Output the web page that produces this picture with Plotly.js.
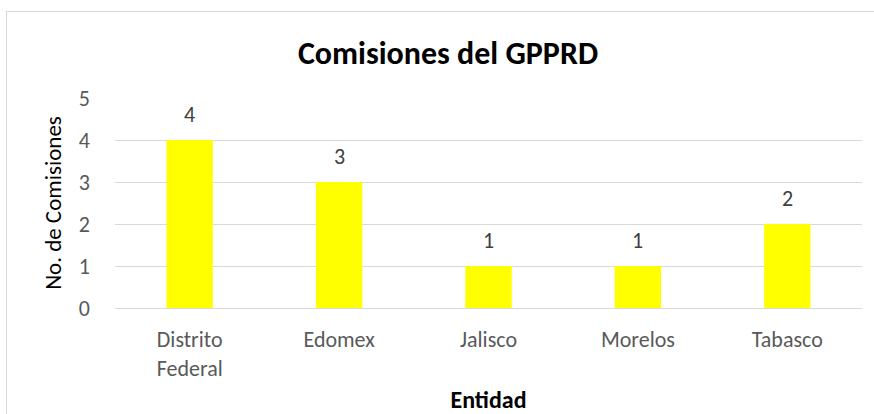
<!DOCTYPE html>
<html>
<head>
<meta charset="utf-8">
<script src="https://cdn.plot.ly/plotly-3.0.1.min.js"></script>
<style>
  html, body { margin: 0; padding: 0; background: #ffffff; overflow: hidden; }
  #chart { width: 874px; height: 414px; }
  #frame { position: absolute; left: 6px; top: 11px; width: 900px; height: 440px;
           border: 1px solid #d9d9d9; pointer-events: none; box-sizing: border-box; }
</style>
</head>
<body>
<div id="chart"></div>
<div id="frame"></div>
<script>
const categories = ["Distrito<br>Federal", "Edomex", "Jalisco", "Morelos", "Tabasco"];
const values = [4, 3, 1, 1, 2];
const yTicks = [0, 1, 2, 3, 4, 5];

const FONT = "Carlito, Lato, 'Open Sans', sans-serif";

const trace = {
  type: "bar",
  x: categories,
  y: values,
  marker: { color: "#ffff00" },
  width: 0.31,
  hoverinfo: "none"
};

const annotations = categories.map((c, i) => ({
  x: c, y: values[i], xref: "x", yref: "y",
  text: String(values[i]),
  showarrow: false, yanchor: "bottom", yshift: 10,
  font: { family: FONT, size: 22, color: "#404040" }
}));

const layout = {
  width: 874, height: 414,
  margin: { l: 115, r: 12, t: 98, b: 106 },
  paper_bgcolor: "rgba(0,0,0,0)",
  plot_bgcolor: "#ffffff",
  showlegend: false,
  title: {
    text: "<b>Comisiones del GPPRD</b>",
    font: { family: FONT, size: 32, color: "#000000" },
    x: 448 / 874, xanchor: "center", xref: "container",
    y: 1 - 53 / 414, yanchor: "middle", yref: "container"
  },
  xaxis: {
    type: "category",
    showgrid: false, zeroline: false, showline: false,
    ticks: "", ticklabelstandoff: 16,
    tickfont: { family: FONT, size: 22, color: "#595959" },
    title: { text: "<b>Entidad</b>", font: { family: FONT, size: 24, color: "#000000" }, standoff: 10 }
  },
  yaxis: {
    range: [0, 5],
    tickvals: yTicks,
    showgrid: true, gridcolor: "#d9d9d9", gridwidth: 1,
    zeroline: true, zerolinecolor: "#d9d9d9", zerolinewidth: 1,
    showline: false, ticks: "", ticklabelstandoff: 24,
    tickfont: { family: FONT, size: 22, color: "#595959" },
    title: { text: "No. de Comisiones", font: { family: FONT, size: 23, color: "#000000" }, standoff: 10 }
  },
  annotations: annotations
};

Plotly.newPlot("chart", [trace], layout, { displayModeBar: false, staticPlot: true });
</script>
</body>
</html>
